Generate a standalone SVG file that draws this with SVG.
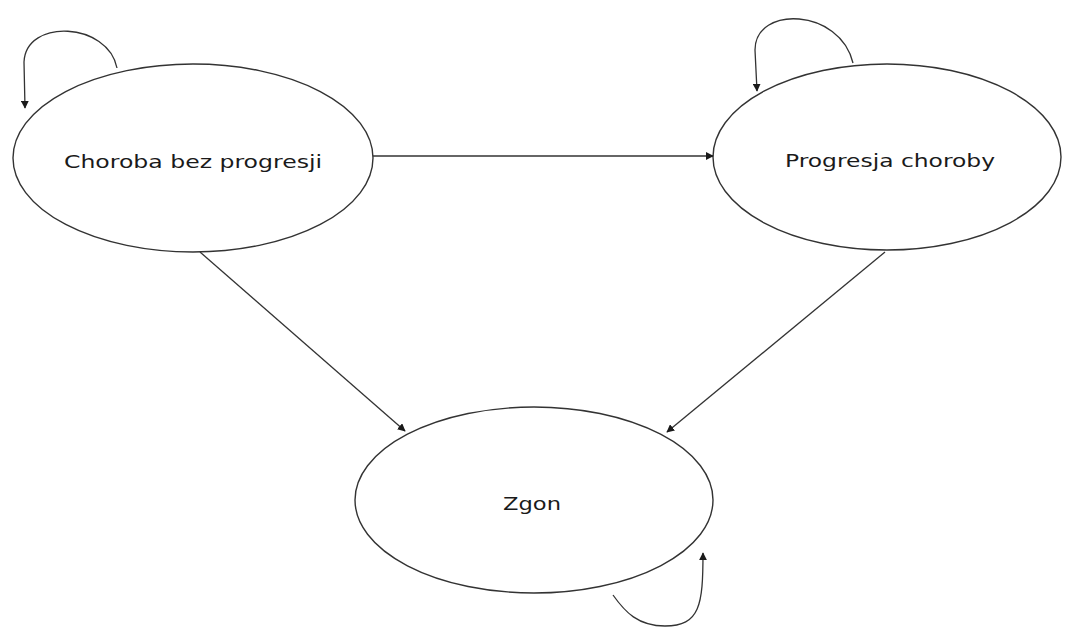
<svg xmlns="http://www.w3.org/2000/svg" width="1065" height="628" viewBox="0 0 1065 628">
  <style>
    .state { fill: #ffffff; stroke: #333333; stroke-width: 1.4; }
    .label { font-family: "DejaVu Sans", Verdana, sans-serif; font-size: 18px; fill: #1a1a1a; text-anchor: middle; }
    .edge { fill: none; stroke: #333333; stroke-width: 1.3; marker-end: url(#arrow); }
  </style>
  <defs>
    <marker id="arrow" viewBox="0 0 10 10" refX="9" refY="5" markerWidth="8" markerHeight="8" markerUnits="userSpaceOnUse" orient="auto">
      <path d="M0,0 L10,5 L0,10 z" fill="#1a1a1a"/>
    </marker>
  </defs>
  <rect width="1065" height="628" fill="#ffffff"/>

  <g id="node-bez-progresji">
    <ellipse class="state" cx="193" cy="158" rx="180" ry="94"/>
    <text class="label" x="193" y="168" textLength="258" lengthAdjust="spacingAndGlyphs">Choroba bez progresji</text>
  </g>

  <g id="node-progresja">
    <ellipse class="state" cx="887" cy="157" rx="174" ry="93"/>
    <text class="label" x="890" y="167" textLength="210" lengthAdjust="spacingAndGlyphs">Progresja choroby</text>
  </g>

  <g id="node-zgon">
    <ellipse class="state" cx="534" cy="500" rx="179" ry="93"/>
    <text class="label" x="532" y="510" textLength="58" lengthAdjust="spacingAndGlyphs">Zgon</text>
  </g>

  <g id="connectors">
    <!-- self-loops -->
    <path class="edge" d="M117,68 C108,22 26,18 24,62 L25,108"/>
    <path class="edge" d="M853,63 C840,8 755,5 755,50 L757,91"/>
    <path class="edge" d="M613,595 C625,612 638,626 665,626 C700,626 703,605 703,553"/>
    <!-- transitions -->
    <path class="edge" d="M373,156 L713,156"/>
    <path class="edge" d="M200,252 L405,431"/>
    <path class="edge" d="M885,252 L667,432"/>
  </g>
</svg>
